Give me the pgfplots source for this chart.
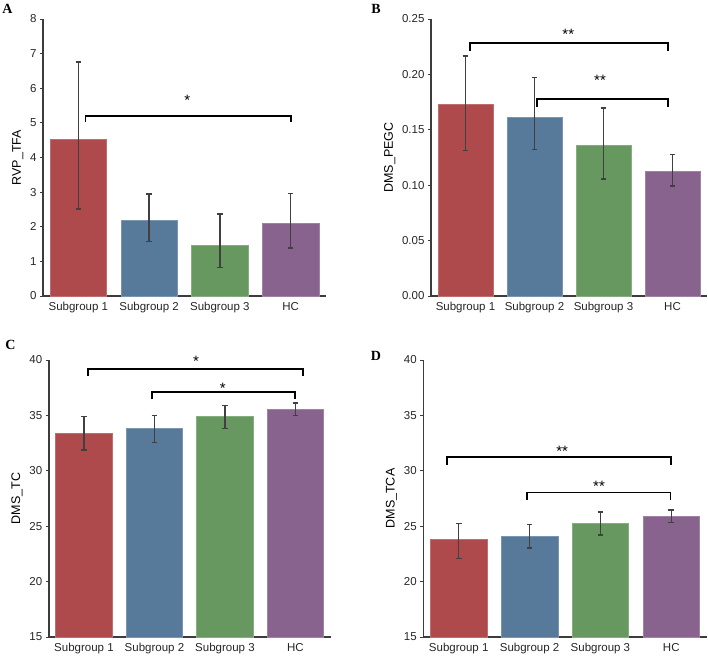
\documentclass[border=0pt]{standalone}
\usepackage{fontspec}
\setmainfont{Liberation Sans}
\newfontfamily\panelfont{Liberation Serif}
\usepackage{pgfplots}
\pgfplotsset{compat=1.18}

\definecolor{cred}{HTML}{AF4A4C}
\definecolor{cblue}{HTML}{577A9B}
\definecolor{cgreen}{HTML}{66985F}
\definecolor{cpurple}{HTML}{87638D}
\definecolor{axgray}{HTML}{3C3C3C}
\definecolor{errgray}{HTML}{404040}

\pgfplotsset{
  panel/.style={
    scale only axis, height=277bp,
    anchor=south west,
    axis x line*=bottom, axis y line*=left,
    axis line style={draw=axgray, line width=1.6bp},
    xmin=-0.5, xmax=3.5, xtick={0,1,2,3},
    xticklabels={Subgroup 1, Subgroup 2, Subgroup 3, HC},
    x tick style={draw=none},
    y tick style={draw=axgray, line width=1bp},
    tick align=outside, major tick length=3bp,
    tick label style={font=\fontsize{11.5bp}{13bp}\selectfont, text=black!85},
    /pgf/number format/assume math mode=true,
    ylabel style={font=\fontsize{12.5bp}{14bp}\selectfont},
    clip mode=individual,
  },
  bar/.style={ybar, bar width=0.8, bar shift=0pt, fill=#1, draw=#1!80!white, line width=0.6bp,
    error bars/y dir=both, error bars/y explicit,
    error bars/error bar style={line width=1.5bp, color=errgray},
    error bars/error mark options={rotate=90, mark size=2.8bp, line width=1.5bp, color=errgray}},
}
\tikzset{
  brk/.style={line width=1.8bp, black},
  star/.style={font=\fontsize{15bp}{15bp}\selectfont},
}

\begin{document}
\begin{tikzpicture}
\useasboundingbox (0bp,0bp) rectangle (708bp,-659bp);

% A
\begin{axis}[panel, at={(43bp,-296bp)}, width=283bp,
  ymin=0, ymax=8, ytick={0,1,...,8}, ylabel={RVP\_TFA}]
\addplot[bar=cred] coordinates {(0,4.52) += (0,2.24) -= (0,2.00)};
\addplot[bar=cblue] coordinates {(1,2.19) += (0,0.75) -= (0,0.61)};
\addplot[bar=cgreen] coordinates {(2,1.46) += (0,0.91) -= (0,0.63)};
\addplot[bar=cpurple] coordinates {(3,2.11) += (0,0.85) -= (0,0.73)};
\draw[brk] (axis cs:0.1,5.03) -- (axis cs:0.1,5.21) -- (axis cs:3.0,5.21) -- (axis cs:3.0,5.03);
\node[star] at (axis cs:1.54,5.66) {*};
\end{axis}

% B
\begin{axis}[panel, at={(431bp,-296bp)}, width=276bp,
  ymin=0, ymax=0.25, ytick={0,0.05,...,0.25}, ylabel={DMS\_PEGC},
  yticklabel style={/pgf/number format/.cd, fixed, fixed zerofill, precision=2}]
\addplot[bar=cred] coordinates {(0,0.1732) += (0,0.0434) -= (0,0.0419)};
\addplot[bar=cblue] coordinates {(1,0.1614) += (0,0.0356) -= (0,0.0292)};
\addplot[bar=cgreen] coordinates {(2,0.1358) += (0,0.0338) -= (0,0.0301)};
\addplot[bar=cpurple] coordinates {(3,0.1123) += (0,0.0154) -= (0,0.0132)};
\draw[brk] (axis cs:0.06,0.2214) -- (axis cs:0.06,0.2283) -- (axis cs:2.94,0.2283) -- (axis cs:2.94,0.2214);
\draw[brk] (axis cs:1.04,0.1710) -- (axis cs:1.04,0.1777) -- (axis cs:2.94,0.1777) -- (axis cs:2.94,0.1710);
\node[star] at (axis cs:1.49,0.2362) {**};
\node[star] at (axis cs:1.95,0.1949) {**};
\end{axis}

% C
\begin{axis}[panel, at={(48.7bp,-637bp)}, width=282bp,
  ymin=15, ymax=40, ytick={15,20,...,40}, ylabel={DMS\_TC}]
\addplot[bar=cred] coordinates {(0,33.42) += (0,1.50) -= (0,1.53)};
\addplot[bar=cblue] coordinates {(1,33.84) += (0,1.17) -= (0,1.29)};
\addplot[bar=cgreen] coordinates {(2,34.89) += (0,0.99) -= (0,1.08)};
\addplot[bar=cpurple] coordinates {(3,35.55) += (0,0.57) -= (0,0.57)};
\draw[brk] (axis cs:0.06,38.59) -- (axis cs:0.06,39.16) -- (axis cs:3.11,39.16) -- (axis cs:3.11,38.59);
\draw[brk] (axis cs:0.96,36.45) -- (axis cs:0.96,37.12) -- (axis cs:2.99,37.12) -- (axis cs:2.99,36.45);
\node[star] at (axis cs:1.59,39.90) {*};
\node[star] at (axis cs:1.97,37.44) {*};
\end{axis}

% D
\begin{axis}[panel, at={(423.3bp,-637bp)}, width=283.4bp,
  ymin=15, ymax=40, ytick={15,20,...,40}, ylabel={DMS\_TCA}]
\addplot[bar=cred] coordinates {(0,23.80) += (0,1.45) -= (0,1.71)};
\addplot[bar=cblue] coordinates {(1,24.13) += (0,1.03) -= (0,1.11)};
\addplot[bar=cgreen] coordinates {(2,25.28) += (0,1.02) -= (0,1.09)};
\addplot[bar=cpurple] coordinates {(3,25.85) += (0,0.60) -= (0,0.51)};
\draw[brk] (axis cs:-0.16,30.56) -- (axis cs:-0.16,31.26) -- (axis cs:3.0,31.26) -- (axis cs:3.0,30.56);
\draw[brk] (axis cs:0.96,27.38) -- (axis cs:0.96,28.04) -- (axis cs:2.99,28.04) -- (axis cs:2.99,27.38);
\node[star] at (axis cs:1.46,31.79) {**};
\node[star] at (axis cs:1.98,28.63) {**};
\end{axis}

\node[font=\panelfont\bfseries\fontsize{14bp}{14bp}\selectfont] at (7.5bp,-8.5bp) {A};
\node[font=\panelfont\bfseries\fontsize{14bp}{14bp}\selectfont] at (376bp,-8.5bp) {B};
\node[font=\panelfont\bfseries\fontsize{14bp}{14bp}\selectfont] at (10.5bp,-344.5bp) {C};
\node[font=\panelfont\bfseries\fontsize{14bp}{14bp}\selectfont] at (376bp,-356bp) {D};
\end{tikzpicture}
\end{document}
